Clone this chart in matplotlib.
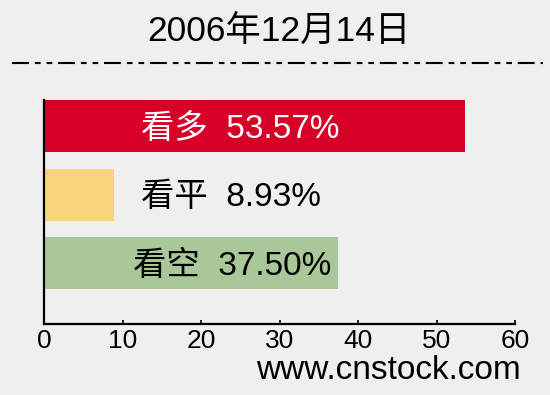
import matplotlib.pyplot as plt
from matplotlib.lines import Line2D

plt.rcParams['font.family'] = ['Liberation Sans', 'Noto Sans CJK SC']
plt.rcParams['lines.scale_dashes'] = False

# data
title = "2006年12月14日"
categories = ["看多", "看平", "看空"]
values = [53.57, 8.93, 37.50]
colors = ["#d70026", "#f8d47e", "#a9c798"]
text_colors = ["white", "black", "black"]
label_x = [12.4, 12.4, 11.3]
xticks = [0, 10, 20, 30, 40, 50, 60]
source = "www.cnstock.com"

bg = "#efefef"
fig = plt.figure(figsize=(5.5, 3.95), dpi=100, facecolor=bg)
ax = fig.add_axes([0.08, 0.1797, 0.8564, 0.5671], facecolor=bg)

ypos = [2, 1, 0]
ax.barh(ypos, values, height=0.76, color=colors, zorder=2)
for y, cat, v, tc, lx in zip(ypos, categories, values, text_colors, label_x):
    ax.text(lx, y - 0.17, f"{cat}  {v:.2f}%", color=tc, fontsize=24,
            va="baseline", ha="left", zorder=3)

ax.set_xlim(0, 60)
ax.set_ylim(-0.89, 2.38)
ax.set_xticks(xticks)
ax.set_yticks([])
ax.tick_params(axis="x", direction="in", length=3, width=1.2,
               labelsize=19, pad=3.5)
for s in ["top", "right"]:
    ax.spines[s].set_visible(False)
for s in ["left", "bottom"]:
    ax.spines[s].set_linewidth(1.6)

fig.text(0.507, 1 - 42 / 395, title, ha="center", va="baseline", fontsize=25.5)
fig.text(0.947, 1 - 379 / 395, source, ha="right", va="baseline", fontsize=24)

line = Line2D([12 / 550, 543 / 550], [1 - 63 / 395] * 2, transform=fig.transFigure,
              color="black", linewidth=1.5, solid_capstyle="butt",
              dash_capstyle="butt")
line.set_dashes((12.2, 4.3, 4.1, 4.3, 4.1, 4.1))
fig.add_artist(line)

fig.savefig("out.png", dpi=100, facecolor=bg)
